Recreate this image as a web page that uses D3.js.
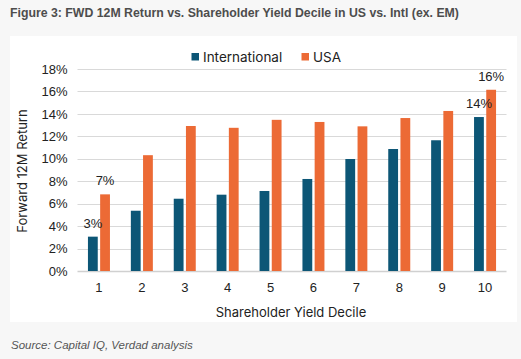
<!DOCTYPE html>
<html><head><meta charset="utf-8">
<script src="https://cdn.jsdelivr.net/npm/d3@7"></script>
<style>body{margin:0;background:#f7f7f7;}svg{display:block;}</style>
</head><body>
<svg id="c" width="521" height="359"></svg>
<script>
const categories = ["1","2","3","4","5","6","7","8","9","10"];
const seriesNames = ["International","USA"];
const intlValues = [3.06, 5.37, 6.44, 6.80, 7.13, 8.20, 9.98, 10.87, 11.65, 13.72];
const usaValues = [6.83, 10.32, 12.92, 12.76, 13.47, 13.28, 12.89, 13.63, 14.26, 16.15];
const yTicks = [0, 2, 4, 6, 8, 10, 12, 14, 16, 18];
const dataLabels = [{s:0, i:0, t:"3%"}, {s:1, i:0, t:"7%"}, {s:0, i:9, t:"14%"}, {s:1, i:9, t:"16%"}];
const colors = ["#0c5676", "#ec6a35"];

const svg = d3.select("#c");
const font = "'Liberation Sans', Arial, sans-serif";
const font2 = "Inter, 'Liberation Sans', sans-serif";

svg.append("text").attr("x", 10).attr("y", 17).attr("font-family", font)
  .attr("font-weight", "bold").attr("font-size", 12.3).attr("fill", "#4d4d4d")
  .text("Figure 3: FWD 12M Return vs. Shareholder Yield Decile in US vs. Intl (ex. EM)");

svg.append("rect").attr("x", 10).attr("y", 36).attr("width", 507).attr("height", 286).attr("fill", "#ffffff");

svg.append("text").attr("x", 11).attr("y", 349).attr("font-family", font)
  .attr("font-style", "italic").attr("font-size", 11.5).attr("fill", "#555")
  .text("Source: Capital IQ, Verdad analysis");

const x0 = d3.scaleBand().domain(categories).range([77.5, 506.5]).paddingInner(0).paddingOuter(0);
const y = d3.scaleLinear().domain([0, 18]).range([271, 69]);

const g = svg.append("g");
g.selectAll(".grid").data(yTicks).join("line")
  .attr("x1", 77.5).attr("x2", 506.5)
  .attr("y1", d => Math.round(y(d)) + 0.5).attr("y2", d => Math.round(y(d)) + 0.5)
  .attr("stroke", d => d === 0 ? "#d0d0d0" : "#d9d9d9").attr("stroke-width", d => d === 0 ? 1.5 : 1);

const yAxis = d3.axisLeft(y).tickValues(yTicks).tickFormat(d => d + "%").tickSize(0).tickPadding(10);
const ya = svg.append("g").attr("transform", "translate(77.5,0)").call(yAxis);
ya.select(".domain").remove();
ya.selectAll("text").attr("font-family", font).attr("font-size", 13).attr("fill", "#222");

const xAxis = d3.axisBottom(x0).tickSize(0).tickPadding(12);
const xa = svg.append("g").attr("transform", "translate(0,271)").call(xAxis);
xa.select(".domain").remove();
xa.selectAll("text").attr("font-family", font).attr("font-size", 13).attr("fill", "#222");

const barW = 9.8, gap = 2.4;
const series = [intlValues, usaValues];
series.forEach((vals, s) => {
  g.selectAll(".bar" + s).data(vals).join("rect")
    .attr("x", (d, i) => x0(categories[i]) + x0.bandwidth() / 2 + (s === 0 ? -gap / 2 - barW : gap / 2))
    .attr("y", d => y(d)).attr("width", barW).attr("height", d => y(0) - y(d))
    .attr("fill", colors[s]);
});

svg.selectAll(".dl").data(dataLabels).join("text")
  .attr("x", d => x0(categories[d.i]) + x0.bandwidth() / 2 + (d.s === 0 ? -gap / 2 - barW / 2 : gap / 2 + barW / 2))
  .attr("y", d => y(series[d.s][d.i]) - 9)
  .attr("text-anchor", "middle").attr("font-family", font).attr("font-size", 13).attr("fill", "#222")
  .text(d => d.t);

svg.append("text").attr("transform", "translate(27,171) rotate(-90)").attr("text-anchor", "middle")
  .attr("font-family", font2).attr("font-size", 13).attr("fill", "#222").text("Forward 12M Return");
svg.append("text").attr("x", 291).attr("y", 317).attr("text-anchor", "middle")
  .attr("font-family", font2).attr("font-size", 13).attr("fill", "#222").text("Shareholder Yield Decile");

const leg = svg.append("g");
const legItems = [{x: 191.5, tx: 203}, {x: 301.5, tx: 313}];
legItems.forEach((p, s) => {
  leg.append("rect").attr("x", p.x).attr("y", 53).attr("width", 7.5).attr("height", 7.5).attr("fill", colors[s]);
  leg.append("text").attr("x", p.tx).attr("y", 61.5).attr("font-family", font2).attr("font-size", 13.5)
    .attr("fill", "#222").text(seriesNames[s]);
});
</script>
</body></html>
